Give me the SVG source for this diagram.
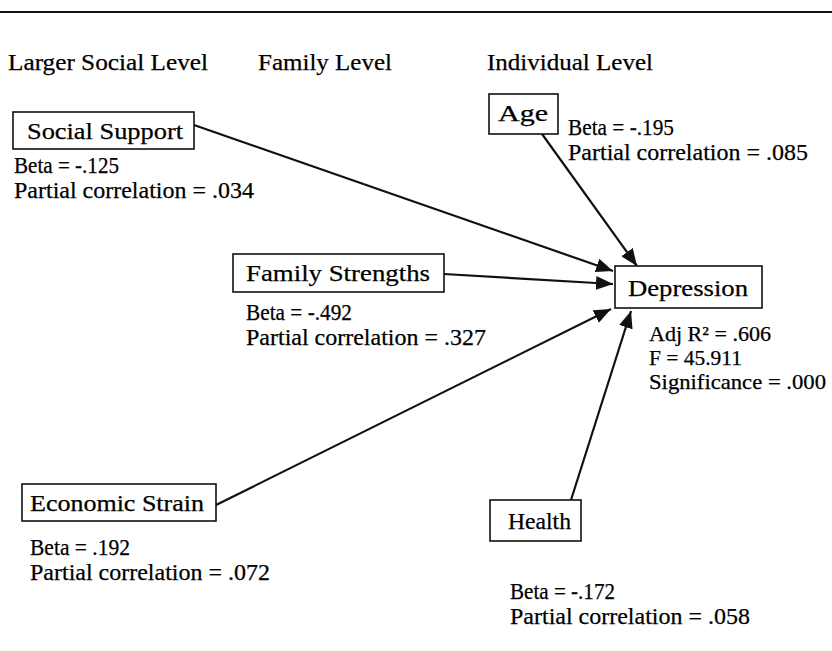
<svg xmlns="http://www.w3.org/2000/svg" width="832" height="651" viewBox="0 0 832 651">
<defs>
<style>
text{font-family:"Liberation Serif","Times New Roman",serif;font-size:24px;fill:#000;stroke:#000;stroke-width:0.25}
.stat{font-size:21.5px}
.box{fill:#fff;stroke:#111;stroke-width:1.6}
.conn{stroke:#111;stroke-width:2.2;fill:none;marker-end:url(#ah)}
</style>
<marker id="ah" markerUnits="userSpaceOnUse" markerWidth="18" markerHeight="14" refX="17" refY="7" orient="auto">
<path d="M0,0 L17,7 L0,14 z" fill="#111"/>
</marker>
</defs>
<rect width="832" height="651" fill="#fff"/>
<line x1="0" y1="12" x2="832" y2="12" stroke="#111" stroke-width="2"/>
<g id="headers">
<text x="8" y="70" textLength="200" lengthAdjust="spacingAndGlyphs">Larger Social Level</text>
<text x="258" y="70" textLength="134" lengthAdjust="spacingAndGlyphs">Family Level</text>
<text x="487" y="70" textLength="166" lengthAdjust="spacingAndGlyphs">Individual Level</text>
</g>
<g id="connectors">
<line class="conn" x1="194" y1="125" x2="613" y2="271"/>
<line class="conn" x1="542" y1="134" x2="637" y2="266"/>
<line class="conn" x1="444" y1="274" x2="613" y2="284"/>
<line class="conn" x1="216" y1="505" x2="611" y2="309"/>
<line class="conn" x1="571" y1="500" x2="631" y2="311"/>
</g>
<g id="social-support">
<rect class="box" x="13" y="112" width="181" height="37"/>
<text x="27" y="139" textLength="156" lengthAdjust="spacingAndGlyphs">Social Support</text>
<text x="14" y="173" textLength="105" lengthAdjust="spacingAndGlyphs">Beta = -.125</text>
<text x="14" y="198" textLength="240" lengthAdjust="spacingAndGlyphs">Partial correlation = .034</text>
</g>
<g id="age">
<rect class="box" x="489" y="94" width="69" height="40"/>
<text x="498" y="121" textLength="50" lengthAdjust="spacingAndGlyphs">Age</text>
<text x="568" y="135" textLength="106" lengthAdjust="spacingAndGlyphs">Beta = -.195</text>
<text x="568" y="160" textLength="240" lengthAdjust="spacingAndGlyphs">Partial correlation = .085</text>
</g>
<g id="family-strengths">
<rect class="box" x="233" y="254" width="211" height="38"/>
<text x="246" y="281" textLength="184" lengthAdjust="spacingAndGlyphs">Family Strengths</text>
<text x="246" y="320" textLength="106" lengthAdjust="spacingAndGlyphs">Beta = -.492</text>
<text x="246" y="345" textLength="240" lengthAdjust="spacingAndGlyphs">Partial correlation = .327</text>
</g>
<g id="depression">
<rect class="box" x="615" y="266" width="147" height="42"/>
<text x="628" y="296" textLength="120" lengthAdjust="spacingAndGlyphs">Depression</text>
<text class="stat" x="649" y="341" textLength="122" lengthAdjust="spacingAndGlyphs">Adj R² = .606</text>
<text class="stat" x="649" y="365" textLength="93" lengthAdjust="spacingAndGlyphs">F = 45.911</text>
<text class="stat" x="649" y="389" textLength="177" lengthAdjust="spacingAndGlyphs">Significance = .000</text>
</g>
<g id="economic-strain">
<rect class="box" x="22" y="484" width="194" height="37"/>
<text x="30" y="511" textLength="174" lengthAdjust="spacingAndGlyphs">Economic Strain</text>
<text x="30" y="555" textLength="100" lengthAdjust="spacingAndGlyphs">Beta = .192</text>
<text x="30" y="580" textLength="240" lengthAdjust="spacingAndGlyphs">Partial correlation = .072</text>
</g>
<g id="health">
<rect class="box" x="490" y="500" width="91" height="41"/>
<text x="508" y="529" textLength="63" lengthAdjust="spacingAndGlyphs">Health</text>
<text x="510" y="599" textLength="105" lengthAdjust="spacingAndGlyphs">Beta = -.172</text>
<text x="510" y="624" textLength="240" lengthAdjust="spacingAndGlyphs">Partial correlation = .058</text>
</g>
</svg>
